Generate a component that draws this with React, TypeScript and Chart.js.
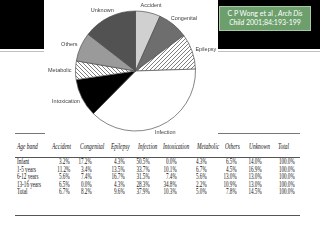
import React, { useEffect, useRef } from "react";
import { Chart, registerables } from "chart.js";
Chart.register(...registerables);

const categories = ["Accident", "Congenital", "Epilepsy", "Infection", "Intoxication", "Metabolic", "Others", "Unknown"];
const totalShare = [6.7, 8.2, 9.6, 37.9, 10.3, 5.0, 7.8, 14.5];

const tableHeader = ["Age band", "Accident", "Congenital", "Epilepsy", "Infection", "Intoxication", "Metabolic", "Others", "Unknown", "Total"];
const rowLabels = ["Infant", "1-5 years", "6-12 years", "13-16 years", "Total"];
const infantRow = [3.2, 17.2, 4.3, 50.5, 0.0, 4.3, 6.5, 14.0, 100.0];
const age1to5Row = [11.2, 3.4, 13.5, 33.7, 10.1, 6.7, 4.5, 16.9, 100.0];
const age6to12Row = [5.6, 7.4, 16.7, 31.5, 7.4, 5.6, 13.0, 13.0, 100.0];
const age13to16Row = [6.5, 0.0, 4.3, 28.3, 34.8, 2.2, 10.9, 13.0, 100.0];
const totalRow = [6.7, 8.2, 9.6, 37.9, 10.3, 5.0, 7.8, 14.5, 100.0];
const tableRows = [infantRow, age1to5Row, age6to12Row, age13to16Row, totalRow];

// layout (pixels)
const headerLeft = [17, 52, 80, 111, 138, 163, 197, 225, 249, 278];
const valueRight = [70, 92, 125, 150, 177, 207, 237, 262, 295];
const headerY = 146;
const rowY = [162, 169.5, 177, 184.5, 192];

function makeHatch(dir: number): CanvasPattern | string {
  const c = document.createElement("canvas");
  c.width = 4;
  c.height = 4;
  const g = c.getContext("2d");
  if (!g) return "#fff";
  g.fillStyle = "#ffffff";
  g.fillRect(0, 0, 4, 4);
  g.strokeStyle = "#707070";
  g.lineWidth = 0.9;
  g.beginPath();
  if (dir > 0) {
    g.moveTo(0, 4); g.lineTo(4, 0);
    g.moveTo(-1, 1); g.lineTo(1, -1);
    g.moveTo(3, 5); g.lineTo(5, 3);
  } else {
    g.moveTo(0, 0); g.lineTo(4, 4);
    g.moveTo(-1, 3); g.lineTo(1, 5);
    g.moveTo(3, -1); g.lineTo(5, 1);
  }
  g.stroke();
  const p = g.createPattern(c, "repeat");
  return p || "#fff";
}

const labelPlugin = {
  id: "outsideLabels",
  afterDatasetsDraw(chart: any) {
    const ctx = chart.ctx;
    const meta = chart.getDatasetMeta(0);
    ctx.save();
    ctx.font = "5.5px 'Liberation Sans', Arial, sans-serif";
    ctx.fillStyle = "#404040";
    ctx.textAlign = "center";
    ctx.textBaseline = "middle";
    meta.data.forEach((arc: any, i: number) => {
      const a = (arc.startAngle + arc.endAngle) / 2;
      const r = arc.outerRadius + 4;
      const text = chart.data.labels[i];
      const w = ctx.measureText(text).width;
      const h = 6;
      const px = arc.x + r * Math.cos(a);
      const py = arc.y + r * Math.sin(a);
      const cx = px + (w / 2) * Math.cos(a);
      const cy = py + (h / 2) * Math.sin(a);
      ctx.fillText(text, cx, cy);
    });
    ctx.restore();
  },
};

function fmt(v: number) {
  return v.toFixed(1) + "%";
}

export default function App() {
  const ref = useRef<HTMLCanvasElement | null>(null);
  useEffect(() => {
    if (!ref.current) return;
    const hatchUp = makeHatch(1);
    const hatchDown = makeHatch(-1);
    const chart = new Chart(ref.current, {
      type: "pie",
      data: {
        labels: categories,
        datasets: [
          {
            data: totalShare,
            backgroundColor: ["#d0d0d0", "#6e6e6e", hatchUp, "#ffffff", "#000000", hatchDown, "#9a9a9a", "#525252"],
            borderColor: "#505050",
            borderWidth: 0.7,
          },
        ],
      },
      options: {
        responsive: false,
        animation: false,
        radius: 60,
        layout: { padding: { left: 0, right: 49, top: 0, bottom: 98 } },
        plugins: { legend: { display: false }, tooltip: { enabled: false } },
      } as any,
      plugins: [labelPlugin],
    });
    return () => chart.destroy();
  }, []);

  const serif = "'Liberation Serif', 'Times New Roman', serif";
  const fs = 8;
  const sx = 0.64;

  const cells: React.ReactNode[] = [];
  tableHeader.forEach((h, i) => {
    cells.push(
      <span
        key={"h" + i}
        style={{
          position: "absolute",
          left: headerLeft[i],
          top: headerY - 4.5,
          fontSize: 8.5,
          lineHeight: "9px",
          fontFamily: serif,
          fontStyle: "italic",
          color: "#111",
          whiteSpace: "nowrap",
          transform: `scaleX(${sx})`,
          transformOrigin: "left center",
        }}
      >
        {h}
      </span>
    );
  });
  tableRows.forEach((row, r) => {
    cells.push(
      <span
        key={"l" + r}
        style={{
          position: "absolute",
          left: headerLeft[0],
          top: rowY[r] - fs / 2,
          fontSize: fs,
          lineHeight: fs + "px",
          fontFamily: serif,
          color: "#111",
          whiteSpace: "nowrap",
          transform: `scaleX(${sx})`,
          transformOrigin: "left center",
        }}
      >
        {rowLabels[r]}
      </span>
    );
    row.forEach((v, c) => {
      cells.push(
        <span
          key={"v" + r + "_" + c}
          style={{
            position: "absolute",
            right: 320 - valueRight[c],
            top: rowY[r] - fs / 2,
            fontSize: fs,
            lineHeight: fs + "px",
            fontFamily: serif,
            color: "#111",
            whiteSpace: "nowrap",
            transform: `scaleX(${sx})`,
            transformOrigin: "right center",
          }}
        >
          {fmt(v)}
        </span>
      );
    });
  });

  const line = (x1: number, x2: number, y: number, color: string, hgt = 1) => (
    <div style={{ position: "absolute", left: x1, top: y, width: x2 - x1, height: hgt, background: color }} />
  );

  return (
    <div style={{ position: "absolute", left: 0, top: 0, width: 320, height: 240, overflow: "hidden", background: "#fff" }}>
      <div style={{ position: "absolute", left: 0, top: 0, width: 44, height: 49, background: "#000" }} />
      <div style={{ position: "absolute", left: 218, top: 0, width: 102, height: 49, background: "#000" }} />
      {line(0, 44, 51, "#c0c0c0")}
      {line(218, 320, 51, "#c0c0c0")}
      {line(15, 45, 133, "#777")}
      {line(218, 300, 133, "#777")}
      {line(15, 300, 157, "#555")}
      {line(15, 300, 215, "#555")}
      {cells}
      <canvas ref={ref} width={320} height={240} style={{ position: "absolute", left: 0, top: 0, width: 320, height: 240 }} />
      <div
        style={{
          position: "absolute",
          left: 219,
          top: 6,
          width: 92,
          height: 25,
          boxSizing: "border-box",
          background: "#6c9f6c",
          border: "1px solid #a8c8a8",
          color: "#fff",
          fontFamily: "Lato, 'Liberation Sans', sans-serif",
          fontSize: 7,
          lineHeight: "9.3px",
          textAlign: "center",
          paddingTop: 2,
          whiteSpace: "nowrap",
        }}
      >
        <div>C P Wong et al , <i>Arch Dis</i></div>
        <div><i>Child</i> 2001;84:193-199</div>
      </div>
    </div>
  );
}
